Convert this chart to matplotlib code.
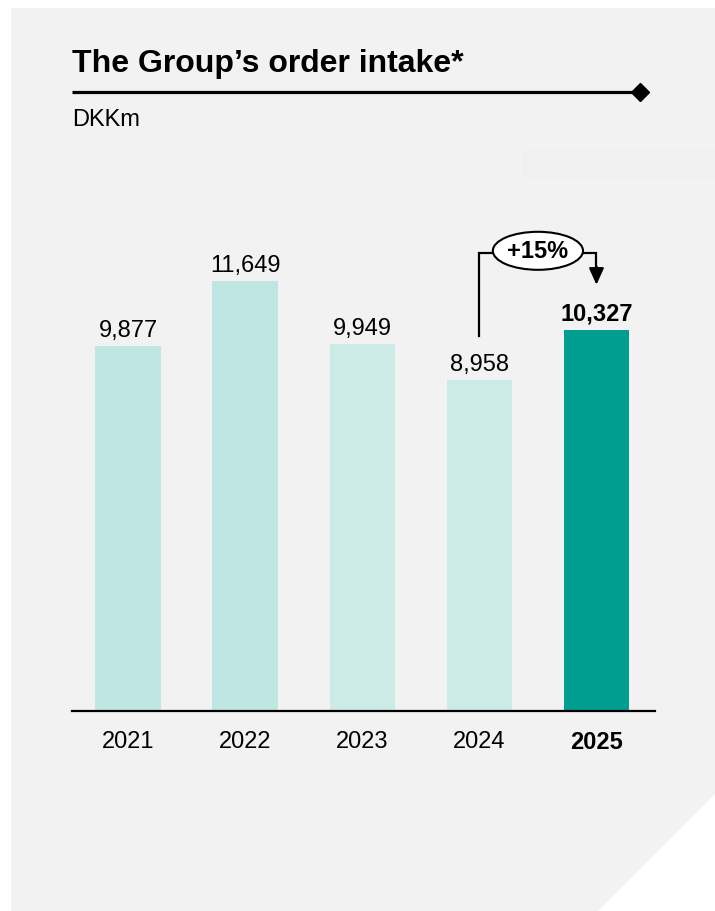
import matplotlib
matplotlib.use("Agg")
import matplotlib.pyplot as plt
from matplotlib.patches import Polygon, Rectangle, Ellipse

plt.rcParams['font.family'] = ['Liberation Sans', 'DejaVu Sans']

years = ["2021", "2022", "2023", "2024", "2025"]
order_intake = [9877, 11649, 9949, 8958, 10327]
bar_colors = ["#bfe6e2", "#bfe6e2", "#cdebe6", "#cdebe6", "#009e8e"]
growth_label = "+15%"

W, H = 715, 912
fig = plt.figure(figsize=(W / 100, H / 100), dpi=100)

# background layer in pixel coordinates
bg = fig.add_axes([0, 0, 1, 1])
bg.set_xlim(0, W)
bg.set_ylim(H, 0)
bg.axis("off")
bg.add_patch(Polygon([(11, 9), (W, 9), (W, 795), (598, H), (11, H)],
                     closed=True, fc="#f2f2f2", ec="none"))
bg.add_patch(Rectangle((522, 151), W - 522, 28, fc="#f0f0f0", ec="none"))

bg.text(72, 72, "The Group\u2019s order intake*", fontsize=23, fontweight="bold",
        ha="left", va="baseline")
bg.plot([72, 638], [93, 93], color="black", lw=2.3, solid_capstyle="butt")
bg.plot([640], [93], marker="D", ms=9, color="black")
bg.text(72, 126, "DKKm", fontsize=17, ha="left", va="baseline")

# bar chart
left, right, bottom = 72, 655, 712
ymax = 14000
px_per_unit = 430 / 11649
top = bottom - ymax * px_per_unit
ax = fig.add_axes([left / W, 1 - bottom / H, (right - left) / W, (bottom - top) / H])
ax.set_facecolor("none")
x = list(range(len(years)))
ax.bar(x, order_intake, width=0.56, color=bar_colors)
ax.set_xlim(-0.48, 4.5)
ax.set_ylim(0, ymax)
for s in ["top", "right", "left"]:
    ax.spines[s].set_visible(False)
ax.spines["bottom"].set_linewidth(1.6)
ax.set_yticks([])
ax.set_xticks(x)
ax.set_xticklabels(years, fontsize=17)
ax.tick_params(axis="x", length=0, pad=13.5)
ax.get_xticklabels()[-1].set_fontweight("bold")

for i, v in enumerate(order_intake):
    ax.text(i, v + 270, f"{v:,}", ha="center", va="baseline", fontsize=17,
            fontweight="bold" if i == len(years) - 1 else "normal")

# growth bracket from 2024 to 2025
y0 = order_intake[3] + 1200
ytop = max(order_intake[3], order_intake[4]) + 2080
tip = order_intake[4] + 1220
ax.plot([3, 3, 4, 4], [y0, ytop, ytop, tip + 300], color="black", lw=1.6,
        solid_joinstyle="miter")
ax.annotate("", xy=(4, tip), xytext=(4, tip + 500),
            arrowprops=dict(arrowstyle="-|>,head_length=1.0,head_width=0.45",
                            color="black", lw=1.6, shrinkA=0, shrinkB=0))
ax.add_patch(Ellipse((3.5, ytop + 60), 0.77, 1030, fc="white", ec="black", lw=1.5,
                     zorder=5))
ax.text(3.5, ytop + 60, growth_label, ha="center", va="center", fontsize=17,
        fontweight="bold", zorder=6)

fig.savefig("out.png", dpi=100)
